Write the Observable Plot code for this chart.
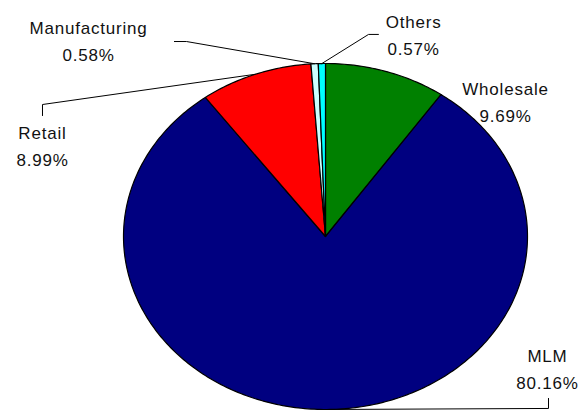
<!DOCTYPE html>
<html>
<head>
<meta charset="utf-8">
<script src="https://cdn.jsdelivr.net/npm/d3@7"></script>
<script src="https://cdn.jsdelivr.net/npm/@observablehq/plot@0.6"></script>
<style>
  html, body { margin: 0; padding: 0; background: #fff; }
</style>
</head>
<body>
<div id="chart"></div>
<script>
// ---- data ----
const categories = ["Wholesale", "MLM", "Retail", "Manufacturing", "Others"];
const shares = [9.69, 80.16, 8.99, 0.58, 0.57];

// ---- styling / layout (kept apart from the data) ----
const colors = ["#008000", "#000080", "#ff0000", "#ccffff", "#00ffff"];
// label anchor points, in pie units (x: -1..1 across, y: -1..1 up)
const labelAnchors = {
  Wholesale:     [0.891, 0.789],
  MLM:           [1.099, -0.754],
  Retail:        [-1.401, 0.535],
  Manufacturing: [-1.173, 1.142],
  Others:        [0.436, 1.179]
};
// leader line elbow and end, pie units (null = no leader)
const leaders = {
  Wholesale: null,
  MLM:           [[1.104, -0.994], [1.104, -0.936]],
  Retail:        [[-1.401, 0.763], [-1.401, 0.699]],
  Manufacturing: [[-0.688, 1.127], [-0.748, 1.127]],
  Others:        [[0.213, 1.168], [0.262, 1.168]]
};

// ---- build slices from shares ----
const total = d3.sum(shares);
let acc = 0;
const slices = categories.map((c, i) => {
  const a0 = acc / total * 2 * Math.PI;
  acc += shares[i];
  const a1 = acc / total * 2 * Math.PI;
  const n = Math.max(4, Math.ceil((a1 - a0) / (2 * Math.PI) * 400));
  const pts = [{x: 0, y: 0}];
  for (let k = 0; k <= n; k++) {
    const a = a0 + (a1 - a0) * k / n;
    pts.push({x: Math.sin(a), y: Math.cos(a)});
  }
  const am = (a0 + a1) / 2;
  return {cat: c, share: shares[i], color: colors[i], pts, mid: {x: Math.sin(am), y: Math.cos(am)}};
});

const labelData = slices.map(s => ({
  cat: s.cat,
  x: labelAnchors[s.cat][0],
  y: labelAnchors[s.cat][1],
  text: s.cat + "\n" + s.share.toFixed(2) + "%"
}));

const leaderData = [];
slices.forEach(s => {
  const l = leaders[s.cat];
  if (!l) return;
  leaderData.push({cat: s.cat, x: s.mid.x, y: s.mid.y});
  leaderData.push({cat: s.cat, x: l[0][0], y: l[0][1]});
  leaderData.push({cat: s.cat, x: l[1][0], y: l[1][1]});
});

const chart = Plot.plot({
  width: 585,
  height: 410,
  margin: 0,
  x: {domain: [-1, 1], range: [123, 527], axis: null},
  y: {domain: [-1, 1], range: [409, 63], axis: null},
  style: {fontFamily: "'Liberation Sans', Arial, sans-serif", letterSpacing: "0.8px", background: "#fff"},
  marks: [
    ...slices.map(s => Plot.line(s.pts, {
      x: "x", y: "y", fill: s.color, stroke: "#000", strokeWidth: 1.2,
      curve: "linear-closed", strokeLinejoin: "round"
    })),
    Plot.line(leaderData, {x: "x", y: "y", z: "cat", stroke: "#000", strokeWidth: 1}),
    Plot.text(labelData, {
      x: "x", y: "y", text: "text", fontSize: 17, lineHeight: 1.6,
      fill: "#111", textAnchor: "middle"
    })
  ]
});
document.getElementById("chart").appendChild(chart);
</script>
</body>
</html>
